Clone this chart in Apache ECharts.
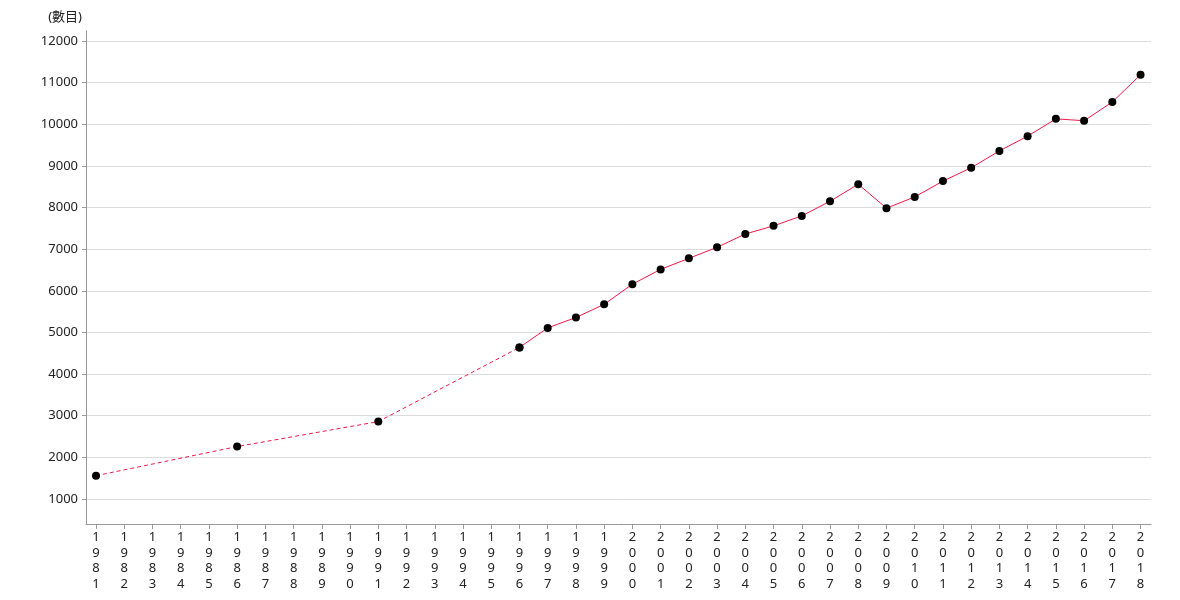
<!DOCTYPE html>
<html>
<head>
<meta charset="utf-8">
<script src="https://cdn.jsdelivr.net/npm/echarts@6/dist/echarts.min.js"></script>
<style>html,body{margin:0;padding:0;background:#fff}#c{width:1180px;height:600px}</style>
</head>
<body>
<div id="c"></div>
<script>
const years = [];
for (let y = 1981; y <= 2018; y++) years.push(y);
const yTicks = [1000,2000,3000,4000,5000,6000,7000,8000,9000,10000,11000,12000];
const earlyYears = [1981, 1986, 1991, 1996];
const earlyValues = [1560, 2260, 2860, 4640];
const lateYears = [1996,1997,1998,1999,2000,2001,2002,2003,2004,2005,2006,2007,2008,2009,2010,2011,2012,2013,2014,2015,2016,2017,2018];
const lateValues = [4640,5110,5360,5675,6160,6515,6780,7045,7365,7560,7800,8150,8560,7985,8255,8635,8955,9360,9715,10130,10085,10535,11190];
const yAxisName = '(數目)';

const font = '"Noto Sans","Noto Sans CJK TC",sans-serif';
const chart = echarts.init(document.getElementById('c'));
chart.setOption({
  animation: false,
  grid: { left: 86, right: 29, top: 31, bottom: 76, containLabel: false, outerBoundsMode: 'none' },
  xAxis: {
    type: 'value',
    min: 1980.646, max: 2018.37,
    axisLine: { lineStyle: { color: '#999' } },
    axisTick: { show: true, length: 5, lineStyle: { color: '#999' }, customValues: years },
    axisLabel: { customValues: years, margin: 6, color: '#222', fontSize: 13, fontFamily: font, lineHeight: 15.5,
      formatter: v => String(Math.round(v)).split('').join('\n') },
    splitLine: { show: false }
  },
  yAxis: {
    type: 'value',
    min: 400, max: 12240,
    name: yAxisName,
    nameLocation: 'end',
    nameGap: 14,
    nameTextStyle: { align: 'right', verticalAlign: 'middle', color: '#222', fontSize: 13, fontFamily: font, padding: [0, 4, 0, 0] },
    axisLine: { show: true, lineStyle: { color: '#999' } },
    axisTick: { show: true, length: 4, lineStyle: { color: '#999' }, customValues: yTicks },
    axisLabel: { customValues: yTicks, margin: 8, color: '#222', fontSize: 13, fontFamily: font,
      formatter: v => String(Math.round(v)) },
    splitLine: { show: true, lineStyle: { color: '#dcdcdc' } }
  },
  series: [
    {
      type: 'line',
      data: earlyYears.map((y, i) => [y, earlyValues[i]]),
      symbol: 'circle', symbolSize: 8,
      itemStyle: { color: '#000' },
      lineStyle: { color: '#f0184a', width: 1, type: [4, 3] },
      z: 2
    },
    {
      type: 'line',
      data: lateYears.map((y, i) => [y, lateValues[i]]),
      symbol: 'circle', symbolSize: 8,
      itemStyle: { color: '#000' },
      lineStyle: { color: '#f0184a', width: 1 },
      z: 3
    }
  ]
});
</script>
</body>
</html>
